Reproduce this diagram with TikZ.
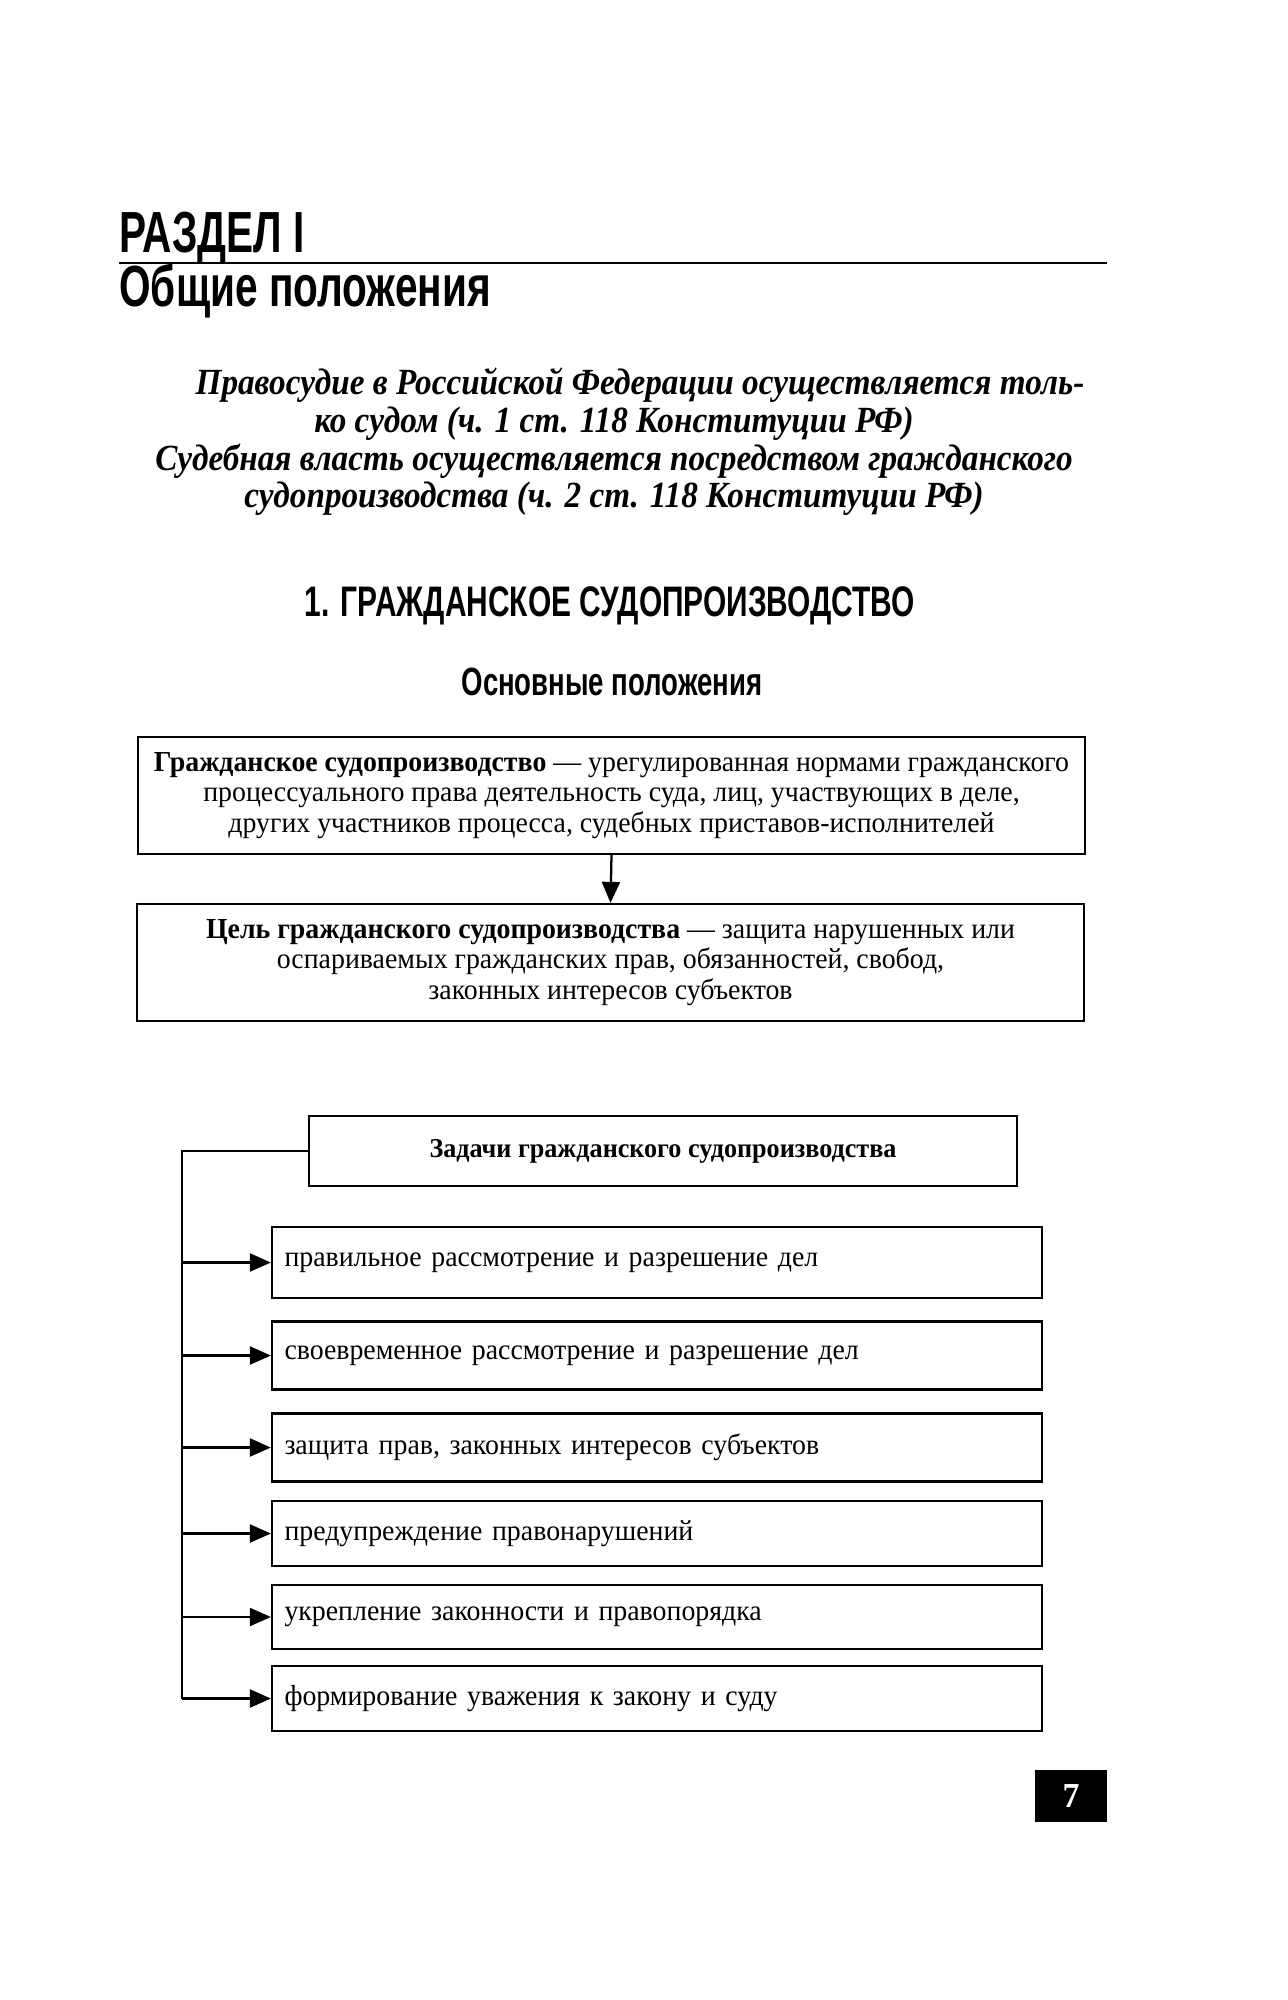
\documentclass[tikz,border=0pt]{standalone}
\usepackage{fontspec}
\setmainfont[FakeStretch=0.96]{Liberation Serif}
\newfontfamily\headfont[FakeStretch=0.70]{Liberation Sans}
\newfontfamily\leadfont[FakeStretch=0.9]{Liberation Serif}
\usetikzlibrary{positioning, arrows.meta}

\begin{document}
\begin{tikzpicture}[
    heading/.style={inner sep=0pt, font=\headfont\bfseries\fontsize{33}{36}\selectfont},
    subheading/.style={inner sep=0pt, font=\headfont\bfseries\fontsize{24.3}{28}\selectfont},
    lead/.style={inner sep=0pt, align=center, font=\leadfont\bfseries\itshape\fontsize{21}{21.5}\selectfont},
    infobox/.style={rectangle, draw=black, line width=1.3pt, minimum width=18.95cm, minimum height=2.34cm, align=center, font=\fontsize{16.5}{17.4}\selectfont},
    taskhead/.style={rectangle, draw=black, line width=1.3pt, minimum width=14.16cm, minimum height=1.4cm, align=center, font=\bfseries\fontsize{15.5}{17}\selectfont},
    taskbox/.style={rectangle, draw=black, line width=1.3pt, minimum width=15.4cm, text width=14.9cm, minimum height=1.36cm, align=left, font=\fontsize{16.5}{17.4}\selectfont},
    pagenum/.style={rectangle, fill=black, text=white, minimum width=1.44cm, minimum height=1.04cm, font=\bfseries\fontsize{20}{22}\selectfont},
    arrow/.style={-{Triangle[length=0.42cm, width=0.36cm]}, line width=1.3pt},
    spine/.style={line width=1.3pt}
]
\useasboundingbox (0,0) rectangle (25.76,-40);

% Заголовок раздела
\node[heading, anchor=base west] (part) at (2.38,-5.04) {РАЗДЕЛ I};
\draw[line width=1pt] (2.38,-5.26) -- (22.14,-5.26);
\node[heading, anchor=base west] (general) at (2.38,-6.12) {Общие положения};

% Эпиграф
\node[lead] (epigraph) at (12.28,-8.84) {\hspace*{1.04cm}Правосудие в Российской Федерации осуществляется толь-\\
ко судом (ч. 1 ст. 118 Конституции РФ)\\
Судебная власть осуществляется посредством гражданского\\
судопроизводства (ч. 2 ст. 118 Конституции РФ)};

% Глава
\node[subheading] (chapter) at (12.2,-12.12) {1. ГРАЖДАНСКОЕ СУДОПРОИЗВОДСТВО};
\node[subheading, font=\headfont\bfseries\fontsize{22.4}{24}\selectfont] (basics) at (12.24,-13.64) {Основные положения};

% Определение и цель
\node[infobox] (civproc) at (12.23,-15.91) {\textbf{Гражданское судопроизводство} — урегулированная нормами гражданского\\
процессуального права деятельность суда, лиц, участвующих в деле,\\
других участников процесса, судебных приставов-исполнителей};
\node[infobox] (goal) at (12.21,-19.25) {\textbf{Цель гражданского судопроизводства} — защита нарушенных или\\
оспариваемых гражданских прав, обязанностей, свобод,\\
законных интересов субъектов};

\draw[arrow] (civproc.south) -- (goal.north);

% Задачи
\node[taskhead] (tasks) at (13.26,-23.02) {Задачи гражданского судопроизводства};

\node[taskbox, minimum height=1.42cm] (task1) at (13.14,-25.25) {правильное рассмотрение и разрешение дел};
\node[taskbox] (task2) at (13.14,-27.11) {своевременное рассмотрение и разрешение дел};
\node[taskbox] (task3) at (13.14,-28.95) {защита прав, законных интересов субъектов};
\node[taskbox, minimum height=1.3cm] (task4) at (13.14,-30.67) {предупреждение правонарушений};
\node[taskbox, minimum height=1.28cm] (task5) at (13.14,-32.34) {укрепление законности и правопорядка};
\node[taskbox, minimum height=1.3cm] (task6) at (13.14,-33.97) {формирование уважения к закону и суду};

\coordinate (spinetop) at (3.64,-23.02);
\draw[spine] (tasks.west) -- (spinetop) -- (spinetop |- task6.west);

\draw[arrow] (spinetop |- task1.west) -- (task1.west);
\draw[arrow] (spinetop |- task2.west) -- (task2.west);
\draw[arrow] (spinetop |- task3.west) -- (task3.west);
\draw[arrow] (spinetop |- task4.west) -- (task4.west);
\draw[arrow] (spinetop |- task5.west) -- (task5.west);
\draw[arrow] (spinetop |- task6.west) -- (task6.west);

% Номер страницы
\node[pagenum] (page) at (21.42,-35.92) {7};

\end{tikzpicture}
\end{document}
